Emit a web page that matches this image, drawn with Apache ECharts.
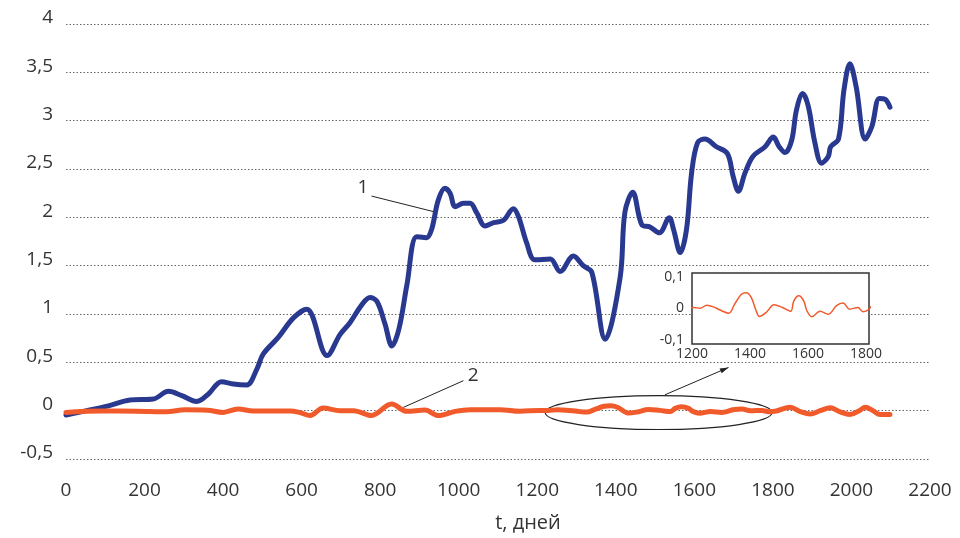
<!DOCTYPE html>
<html>
<head>
<meta charset="utf-8">
<script src="https://cdn.jsdelivr.net/npm/echarts@6/dist/echarts.min.js"></script>
<style>
  html, body { margin: 0; padding: 0; background: #fff; }
  #chart { width: 960px; height: 538px; }
</style>
</head>
<body>
<div id="chart"></div>
<script>
// curve 1 (blue): day, value
const blueDays = [0, 53, 108, 163, 222, 261, 295, 333, 362, 396, 426, 460, 486, 502, 541, 579, 613, 665, 698, 723, 754, 774, 792, 812, 830, 848, 868, 893, 918, 931, 948, 965, 978, 991, 1012, 1029, 1046, 1067, 1089, 1114, 1139, 1152, 1173, 1194, 1233, 1258, 1292, 1317, 1339, 1373, 1411, 1423, 1443, 1466, 1487, 1511, 1536, 1547, 1564, 1580, 1593, 1608, 1627, 1656, 1684, 1699, 1712, 1729, 1749, 1780, 1801, 1816, 1831, 1848, 1860, 1876, 1890, 1907, 1924, 1941, 1947, 1967, 1981, 1996, 2012, 2035, 2052, 2071, 2086, 2098]
const blueValues = [-0.045, 0, 0.05, 0.11, 0.12, 0.2, 0.155, 0.095, 0.17, 0.3, 0.275, 0.265, 0.43, 0.585, 0.76, 0.96, 1.05, 0.57, 0.79, 0.91, 1.1, 1.17, 1.13, 0.9, 0.67, 0.85, 1.3, 1.8, 1.79, 1.875, 2.18, 2.3, 2.25, 2.11, 2.145, 2.145, 2.045, 1.91, 1.945, 1.97, 2.09, 2.01, 1.735, 1.56, 1.57, 1.44, 1.6, 1.5, 1.43, 0.74, 1.38, 2.05, 2.26, 1.925, 1.9, 1.84, 1.995, 1.875, 1.635, 1.875, 2.46, 2.77, 2.81, 2.73, 2.66, 2.42, 2.27, 2.46, 2.63, 2.73, 2.83, 2.73, 2.67, 2.8, 3.11, 3.28, 3.15, 2.77, 2.56, 2.63, 2.73, 2.81, 3.32, 3.59, 3.35, 2.81, 2.94, 3.23, 3.22, 3.14]

// curve 2 (orange): day, value
const orangeDays = [0, 87, 180, 256, 303, 360, 400, 438, 477, 570, 596, 621, 655, 698, 732, 778, 829, 868, 914, 948, 991, 1029, 1105, 1156, 1206, 1228, 1251, 1274, 1302, 1327, 1347, 1370, 1387, 1404, 1421, 1432, 1455, 1483, 1512, 1540, 1551, 1568, 1585, 1596, 1613, 1641, 1670, 1698, 1721, 1743, 1772, 1789, 1809, 1844, 1870, 1895, 1920, 1946, 1970, 1996, 2020, 2035, 2055, 2073, 2098]
const orangeValues = [-0.018, -0.004, -0.005, -0.011, 0.01, 0.005, -0.018, 0.017, -0.004, -0.004, -0.02, -0.05, 0.027, 0, 0, -0.05, 0.068, -0.007, 0.006, -0.05, -0.007, 0.01, 0.01, -0.007, 0.003, 0.001, 0.01, 0.005, -0.007, -0.015, 0.014, 0.045, 0.05, 0.035, -0.007, -0.025, -0.013, 0.012, 0.003, -0.009, 0.024, 0.04, 0.024, -0.007, -0.026, -0.009, -0.018, 0.009, 0.017, -0.002, 0.003, -0.01, -0.003, 0.035, -0.01, -0.035, 0, 0.03, -0.01, -0.04, 0, 0.035, 0, -0.04, -0.04]

// axes
const xTicks = [0, 200, 400, 600, 800, 1000, 1200, 1400, 1600, 1800, 2000, 2200]
const yTicks = [-0.5, 0, 0.5, 1, 1.5, 2, 2.5, 3, 3.5, 4]
const insetXTicks = [1200, 1400, 1600, 1800]
const insetYTicks = [-0.1, 0, 0.1]
const insetRange = [1200, 1810]

const BLUE = '#29398f'
const ORANGE = '#f15a2b'
const TEXT = '#333'
const FONT = '"Open Sans", sans-serif'

const comma = v => String(v).replace('.', ',')
const plain = v => String(v)
const pairs = (xs, ys) => xs.map((x, i) => [x, ys[i]])

const chart = echarts.init(document.getElementById('chart'))

const option = {
  animation: false,
  textStyle: { fontFamily: FONT },
  grid: [
    { left: 66, right: 30, top: 24, bottom: 78 },
    { left: 692, top: 273, width: 177, height: 71, show: true,
      borderColor: '#333', borderWidth: 1.5, backgroundColor: '#fff', z: 3 }
  ],
  xAxis: [
    {
      type: 'value', gridIndex: 0,
      min: xTicks[0], max: xTicks[xTicks.length - 1], interval: 200,
      axisLine: { show: false }, axisTick: { show: false }, splitLine: { show: false },
      axisLabel: { color: TEXT, fontSize: 19, margin: 22, formatter: plain, fontFamily: FONT },
      name: 't, дней', nameLocation: 'middle', nameGap: 54,
      nameTextStyle: { color: TEXT, fontSize: 20, fontFamily: FONT, padding: [0, 0, 0, 60] }
    },
    {
      type: 'value', gridIndex: 1,
      min: insetRange[0], max: insetRange[1],
      axisLine: { show: false }, axisTick: { show: false }, splitLine: { show: false },
      axisLabel: { color: TEXT, fontSize: 14, margin: 3, customValues: insetXTicks, formatter: plain, fontFamily: FONT }
    }
  ],
  yAxis: [
    {
      type: 'value', gridIndex: 0,
      min: yTicks[0], max: yTicks[yTicks.length - 1], interval: 0.5,
      axisLine: { show: false }, axisTick: { show: false },
      splitLine: { show: true, lineStyle: { color: '#666', width: 1.2, type: [1.5, 2] } },
      // labels sit a little above their grid line, as in the original
      axisLabel: { color: TEXT, fontSize: 19, margin: 13, formatter: comma, fontFamily: FONT,
                   verticalAlign: 'bottom', lineHeight: 12 }
    },
    {
      type: 'value', gridIndex: 1,
      min: -0.112, max: 0.112,
      axisLine: { show: false }, axisTick: { show: false }, splitLine: { show: false },
      axisLabel: { color: TEXT, fontSize: 14, margin: 8, customValues: insetYTicks, formatter: comma, fontFamily: FONT }
    }
  ],
  series: [
    {
      type: 'line', xAxisIndex: 0, yAxisIndex: 0, z: 4,
      data: pairs(blueDays, blueValues),
      smooth: 0.35, showSymbol: false,
      lineStyle: { color: BLUE, width: 5, cap: 'round', join: 'round' }
    },
    {
      type: 'line', xAxisIndex: 0, yAxisIndex: 0, z: 5,
      data: pairs(orangeDays, orangeValues),
      smooth: 0.35, showSymbol: false,
      lineStyle: { color: ORANGE, width: 5, cap: 'round', join: 'round' }
    },
    {
      type: 'line', xAxisIndex: 1, yAxisIndex: 1, z: 6,
      data: pairs(orangeDays, orangeValues),
      smooth: 0.35, showSymbol: false, clip: true,
      lineStyle: { color: ORANGE, width: 1.5 }
    }
  ]
}

chart.setOption(option)

// annotations, placed in data coordinates of the main grid
const px = (t, v) => chart.convertToPixel({ gridIndex: 0 }, [t, v])

const label1 = px(756, 2.31)
const lead1a = px(778, 2.22), lead1b = px(935, 2.06)
const label2 = px(1037, 0.367)
const lead2a = px(1012, 0.31), lead2b = px(859, 0.034)
const ellL = px(1220, -0.02), ellR = px(1798, -0.02)
const ellT = px(1509, 0.155), ellB = px(1509, -0.195)
const arrA = px(1525, 0.164), arrB = px(1687, 0.447)

const ang = Math.atan2(arrB[1] - arrA[1], arrB[0] - arrA[0])
const head = (len, spread) => [
  arrB,
  [arrB[0] - len * Math.cos(ang - spread), arrB[1] - len * Math.sin(ang - spread)],
  [arrB[0] - len * Math.cos(ang + spread), arrB[1] - len * Math.sin(ang + spread)]
]

const stroke = { stroke: '#222', lineWidth: 1 }

chart.setOption({
  graphic: [
    { type: 'text', x: label1[0], y: label1[1], z: 10,
      style: { text: '1', fill: TEXT, font: '19px ' + FONT, align: 'center', verticalAlign: 'middle' } },
    { type: 'line', z: 10, shape: { x1: lead1a[0], y1: lead1a[1], x2: lead1b[0], y2: lead1b[1] }, style: stroke },
    { type: 'text', x: label2[0], y: label2[1], z: 10,
      style: { text: '2', fill: TEXT, font: '19px ' + FONT, align: 'center', verticalAlign: 'middle' } },
    { type: 'line', z: 10, shape: { x1: lead2a[0], y1: lead2a[1], x2: lead2b[0], y2: lead2b[1] }, style: stroke },
    { type: 'ellipse', z: 1,
      shape: { cx: (ellL[0] + ellR[0]) / 2, cy: (ellT[1] + ellB[1]) / 2,
               rx: (ellR[0] - ellL[0]) / 2, ry: (ellB[1] - ellT[1]) / 2 },
      style: { fill: 'none', stroke: '#222', lineWidth: 1.2 } },
    { type: 'line', z: 10, shape: { x1: arrA[0], y1: arrA[1], x2: arrB[0], y2: arrB[1] }, style: stroke },
    { type: 'polygon', z: 10, shape: { points: head(9, 0.3) }, style: { fill: '#222' } }
  ]
})
</script>
</body>
</html>
